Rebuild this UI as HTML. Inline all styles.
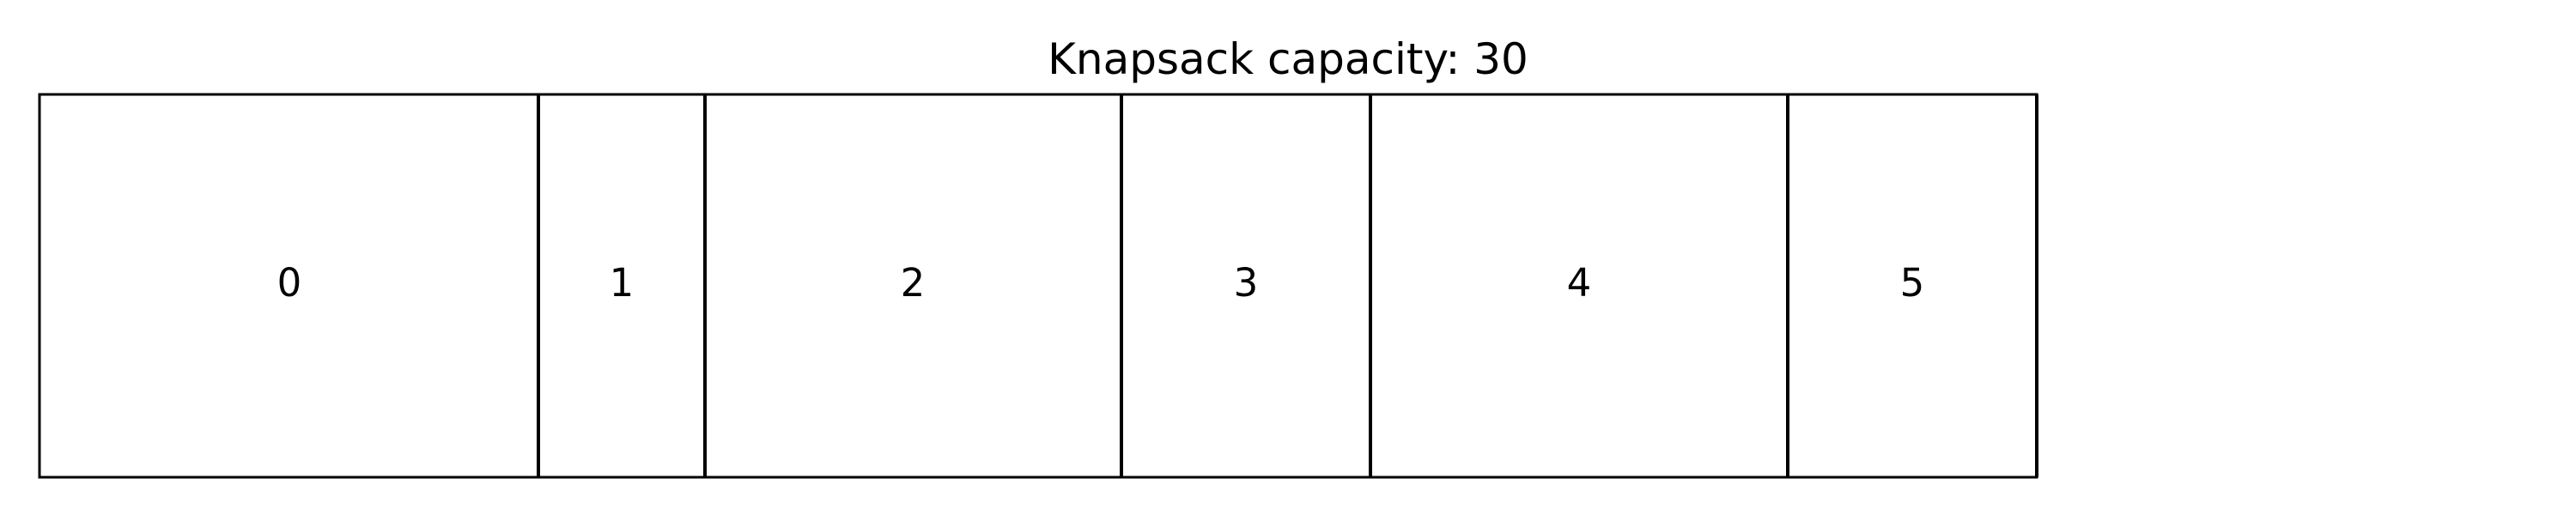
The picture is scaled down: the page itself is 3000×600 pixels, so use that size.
<!DOCTYPE html>
<html><head><meta charset="utf-8"><style>html,body{margin:0;padding:0;background:#fff}</style></head>
<body>
<svg width="3000" height="600" xmlns="http://www.w3.org/2000/svg" style="display:block">
<rect width="3000" height="600" fill="#fff"/>
<text x="1500" y="86" text-anchor="middle" font-family="DejaVu Sans, Liberation Sans, sans-serif" font-size="50" fill="#000">Knapsack capacity: 30</text>
<g fill="none" stroke="#000" stroke-width="3">
<rect x="46" y="110" width="581" height="446"/>
<rect x="627" y="110" width="194" height="446"/>
<rect x="821" y="110" width="485" height="446"/>
<rect x="1306" y="110" width="290" height="446"/>
<rect x="1596" y="110" width="486" height="446"/>
<rect x="2082" y="110" width="290" height="446"/>
</g>
<g fill="none" stroke="#000" stroke-width="4">
<line x1="627" y1="110" x2="627" y2="556"/>
<line x1="821" y1="110" x2="821" y2="556"/>
<line x1="1306" y1="110" x2="1306" y2="556"/>
<line x1="1596" y1="110" x2="1596" y2="556"/>
<line x1="2082" y1="110" x2="2082" y2="556"/>
<line x1="2372" y1="110" x2="2372" y2="556"/>
</g>
<g font-family="DejaVu Sans, Liberation Sans, sans-serif" font-size="45" text-anchor="middle" fill="#000">
<text x="337" y="345">0</text>
<text x="724" y="345">1</text>
<text x="1063" y="345">2</text>
<text x="1451" y="345">3</text>
<text x="1839" y="345">4</text>
<text x="2227" y="345">5</text>
</g>
</svg>
</body></html>
